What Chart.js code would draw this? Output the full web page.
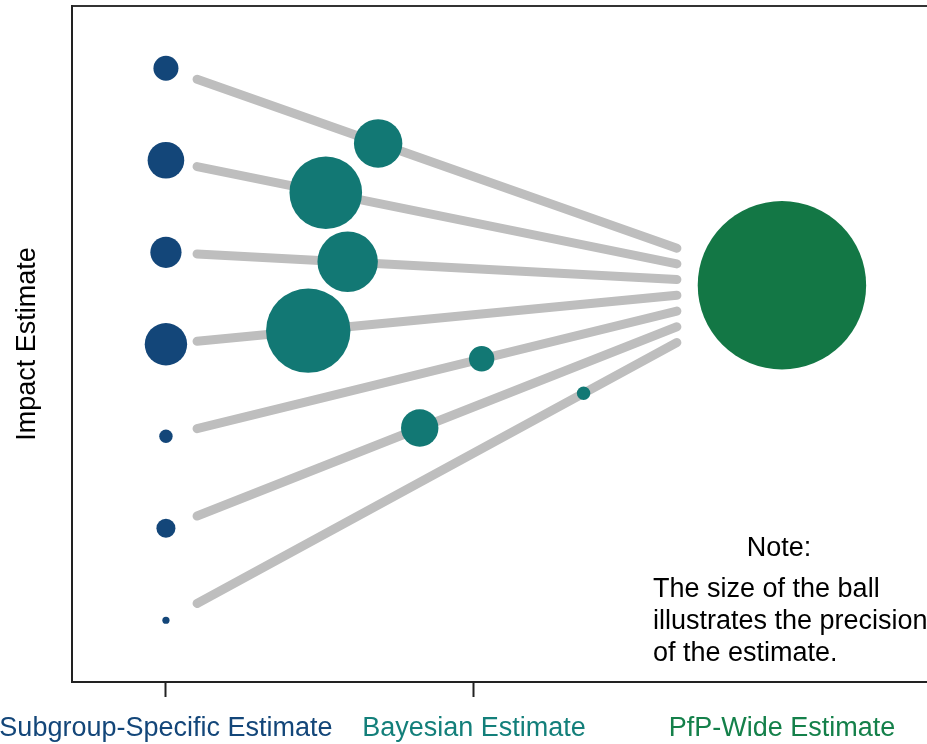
<!DOCTYPE html>
<html>
<head>
<meta charset="utf-8">
<script src="https://cdn.jsdelivr.net/npm/chart.js@4.4.0/dist/chart.umd.min.js"></script>
<style>
    html, body { margin: 0; padding: 0; background: #fff; }
</style>
</head>
<body>
<canvas id="impactChart" width="927" height="744"></canvas>
<script>
// x: 1 = subgroup column, 2 = bayesian tick, 3 = pfp-wide column ; y: impact estimate
const categoryLabels = ['Subgroup-Specific Estimate', 'Bayesian Estimate', 'PfP-Wide Estimate']
const categoryColors = ['#134679', '#137f7a', '#14804a']
const xTicks = [1, 2, 3]

const subgroupX = [1, 1, 1, 1, 1, 1, 1]
const subgroupY = [7, 6, 5, 4, 3, 2, 1]
const subgroupSize = [12.5, 18.3, 15.6, 21.2, 6.7, 9.5, 3.6]

const bayesX = [1.689, 1.519, 1.590, 1.462, 2.025, 1.824, 2.356]
const bayesY = [6.183, 5.647, 4.897, 4.148, 3.842, 3.090, 3.467]
const bayesSize = [24.2, 36.3, 30.2, 42.2, 12.7, 18.7, 6.7]

const pfpX = [3]
const pfpY = [4.642]
const pfpSize = [84.2]

// grey connectors (subgroup -> pfp), ends
const lineStartX = 1.101
const lineEndX = 2.659
const lineStartY = [6.881, 5.932, 4.982, 4.032, 3.083, 2.133, 1.183]
const lineEndY = [5.045, 4.874, 4.703, 4.532, 4.361, 4.190, 4.019]

const noteTitle = 'Note:'
const noteLines = ['The size of the ball', 'illustrates the precision', 'of the estimate.']

const fontFamily = "'Liberation Sans', Arial, sans-serif"
const fontSize = 27
Chart.defaults.font.family = fontFamily


function toPoints(xs, ys) {
    return xs.map((x, i) => ({ x: x, y: ys[i] }))
}


// connector lines go behind the balls
const lineSets = lineStartY.map((y0, i) => ({
    type: 'line',
    data: [{ x: lineStartX, y: y0 }, { x: lineEndX, y: lineEndY[i] }],
    borderColor: '#bebebe',
    borderWidth: 9,
    borderCapStyle: 'round',
    pointRadius: 0,
    fill: false,
    clip: false,
    order: 5
}))

const ballSets = [
    { data: toPoints(subgroupX, subgroupY), pointRadius: subgroupSize, backgroundColor: '#134679' },
    { data: toPoints(bayesX, bayesY), pointRadius: bayesSize, backgroundColor: '#127874' },
    { data: toPoints(pfpX, pfpY), pointRadius: pfpSize, backgroundColor: '#137745' }
].map(d => Object.assign(d, { type: 'scatter', borderWidth: 0, pointBorderWidth: 0, clip: false, order: 1 }))


const notePlugin = {
    id: 'note',
    afterDraw(chart) {
        const ctx = chart.ctx
        ctx.save()
        ctx.fillStyle = '#000'
        ctx.font = fontSize + 'px ' + fontFamily
        ctx.textBaseline = 'alphabetic'
        ctx.textAlign = 'center'
        ctx.fillText(noteTitle, 779, 556)
        ctx.textAlign = 'left'
        noteLines.forEach((t, i) => ctx.fillText(t, 653, 597 + i * 32))
        ctx.restore()
    }
}


var impactChart = new Chart(
    document.getElementById('impactChart'),
    {
        type: 'scatter',
        data: { datasets: ballSets.concat(lineSets) },
        plugins: [notePlugin],
        options: {
            responsive: false,
            animation: false,
            events: [],
            layout: { autoPadding: false, padding: { top: 6, left: 0, right: 0, bottom: 0 } },
            plugins: {
                legend: { display: false },
                tooltip: { enabled: false }
            },
            scales: {
                x: {
                    type: 'linear',
                    position: 'bottom',
                    min: 0.695,
                    max: 3.471,
                    afterBuildTicks: scale => { scale.ticks = xTicks.map(v => ({ value: v })) },
                    afterFit: scale => { scale.paddingLeft = 0; scale.paddingRight = 0; scale.height = 62 },
                    ticks: {
                        autoSkip: false,
                        maxRotation: 0,
                        padding: 15,
                        font: { size: fontSize },
                        color: ctx => categoryColors[ctx.index],
                        callback: (value, index) => categoryLabels[index]
                    },
                    grid: {
                        drawOnChartArea: false,
                        drawTicks: true,
                        tickLength: 15,
                        tickWidth: 2,
                        tickColor: ctx => ctx.index < 2 ? '#222' : 'rgba(0,0,0,0)'
                    },
                    border: { display: true, color: '#222', width: 2 }
                },
                xTop: {
                    type: 'linear',
                    position: 'top',
                    min: 0.695,
                    max: 3.471,
                    ticks: { display: false },
                    grid: { display: false, drawTicks: false },
                    border: { display: true, color: '#333', width: 2 }
                },
                y: {
                    type: 'linear',
                    min: 0.329,
                    max: 7.677,
                    ticks: { display: false },
                    grid: { display: false, drawTicks: false },
                    border: { display: true, color: '#222', width: 2 },
                    title: {
                        display: true,
                        text: 'Impact Estimate',
                        color: '#000',
                        font: { size: fontSize },
                        padding: { top: 11, bottom: 28.6 }
                    }
                }
            }
        }
    }
);
</script>
</body>
</html>
